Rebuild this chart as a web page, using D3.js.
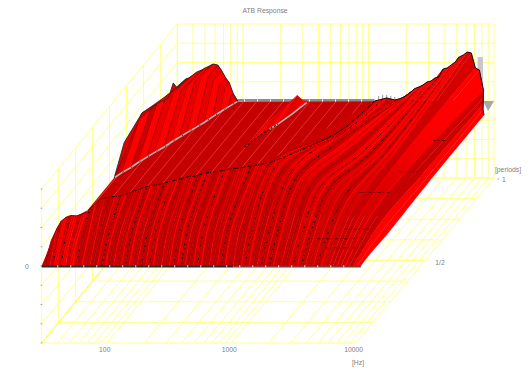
<!DOCTYPE html>
<html>
<head>
<meta charset="utf-8">
<script src="https://cdn.jsdelivr.net/npm/d3@7/dist/d3.min.js"></script>
<style>
  html, body { margin: 0; padding: 0; background: #fff; }
  svg { display: block; }
  text { font-family: "Liberation Sans", Arial, sans-serif; font-size: 6.8px; fill: #808080; }
</style>
</head>
<body>
<div id="chart"></div>
<script>
// Axis values
const gridFreq = [30,40,50,60,70,80,90,100,200,300,400,500,600,700,800,900,1000,2000,3000,4000,5000,6000,7000,8000,9000,10000]
const freqLabels = [100, 1000, 10000]
const periodLevels = [0,0.125,0.25,0.375,0.5,0.625,0.75,0.875,1]
const ampLevels = [-77,-57.75,-38.5,-19.25,0,19.25,38.5,57.75,77]

// Main sheet: one entry per frequency line
const sheetFreq = [30,32,35,37,40,43,47,50,54,58,63,68,73,78,84,91,98,105,113,122,131,141,152,164,176,190,205,220,237,255,275,296,319,343,370,398,428,461,497,535,576,620,668,719,774,833,897,966,1040,1120,1206,1298,1398,1505,1620,1745,1879,2023,2178,2345,2525,2719,2927,3152,3394,3654,3934,4236,4561,4911,5287,5693,6130,6600,7106,7651,8238,8870,9550,10280,11000]
const riseH = [2,8,12,15,16,16,16,17,18,19,23,25,25,24,24,23,24,25,24,26,26,27,27,26,27,28,28,28,29,29,29,29,30,30,30,31,30,31,30,31,31,30,31,31,30,31,30,31,30,30,29,28,27,26,25,23,21,20,20,19,19,18,18,17,17,16,16,15,15,14,12,11,10,10,9,8,6,5,3,2,1]
const shoulderP = [.04,.045,.05,.06,.065,.07,.08,.09,.095,.095,.10,.10,.11,.12,.13,.14,.15,.15,.16,.16,.16,.16,.16,.17,.17,.17,.17,.17,.18,.18,.18,.18,.18,.18,.19,.19,.19,.20,.20,.20,.20,.21,.21,.21,.22,.22,.23,.23,.24,.24,.24,.24,.24,.24,.24,.24,.20,.20,.20,.20,.20,.20,.20,.20,.20,.20,.20,.20,.20,.20,.20,.20,.20,.20,.20,.20,.20,.20,.20,.20,.20]
const shoulderH = [6,18,29,35,38,39,37,37,38,42,46,50,50,49,48,47,47,49,49,50,52,53,54,53,54,55,56,57,57,58,59,60,60,61,61,62,62,62,62,63,64,63,63,64,63,64,63,64,63,64,64,63,62,61,60,59,57,56,54,53,51,50,48,47,46,44,43,41,40,37,35,33,31,29,26,24,21,16,11,5.5,0.5]
// The lines from here on carry on to the back of the plot
const tailStart = 49
const kneeP = [.73,.73,.73,.73,.73,.73,.73,.5,.5,.5,.5,.5,.5,.5,.5,.5,.5,.5,.5,.5,.5,.5,.5,.5,.5,.5,.5,.5,.5,.5,.5,.5]
const kneeH = [13,13,15,16,18,20,23,43,41,39,37,36,34,33,31,31,30,30,30,31,32,33,34,35,35,33,31,22,15,9,5,3]
const endP = [1,1,1,1,1,1,1,1,1,1,1,1,1,1,1,1,1,1,1,1,1,1,1,1,1,1,1,1,.97,.94,.91,.89]
const endH = [0,1,2,3,2,1,2,3.5,6,9,12.5,14,16,19,20,23,24.5,32,33,36,39,44,46,49,48,33,31,11,8,7,6,4]

// Left edge of the main sheet at the lowest frequency
const edgeP = [0,.06,.12,.19,.26,.34]
const edgeH = [0,10,20,18,7,0]

// Dark speckled rows across the high frequency end
const rowFrom = [5000,6000,7000,7000,4000,5000]
const rowTo = [10000,10000,10000,9000,8000,9000]
const rowP = [.05,.12,.45,.7,.08,.3]
const rowH = [10,17,20,10,14,24]

// Back hump at low frequencies
const humpFreq = [30,32,35,37,40,43,47,50,54,58,63,68,73,78,84,91]
const humpBaseP = [.535,.566,.597,.627,.658,.689,.72,.75,.78,.81,.84,.87,.905,.935,.966,.996]
const humpMidP = [.74,.70,.74,.77,.80,.83,.85,.87,.89,.91,.93,.94,.95,.97,.98,.998]
const humpMidH = [31,32,34,36,37,36,36,36,37,38,36,30,24,18,8,0]
const humpEndH = [13,17,22,23,26,29,31,33,35,37,36,30,23,18,7,0]
const humpEdgeP = [.535,.608,.74,.84,.936,.97,1]
const humpEdgeH = [0,23,31,23,14,23,13]

// Small ridge in the middle of the plane
const ridgeFreq = [208,216,230,250,270,300,330]
const ridgeBaseP = [.72,.75,.79,.83,.86,.92,.99]
const ridgeEndP = [.72,.875,.92,.97,1,1,1]
const ridgeEndH = [0,0,1,3,6,1,0]

// Zero plane
const planeFreq = [30,30,91,7000,7000]
const planeP = [.34,.535,.996,1,.3]
const planeLineFreq = [31,39,50,63,80,102,130,166,211,269,343,437,557,709,904,1151]
const planeLineEnd = [.545,.65,.745,.84,.955,1,1,1,1,1,1,1,1,1,1,1]

// Grey bits at the back
const spikeFreq = [1206,1298,1398,1505,1620]
const spikeH = [5,6,6,5,4]
const columnFreq = [7400,8175]
const columnLow = 14
const columnHigh = 44
const cornerFreq = [8175,10000,10450]
const cornerP = [1,1,.94]

const width = 530
const height = 378

// Two log scales because the back wall is a little wider than the floor front
const xFront = d3.scaleLog().domain([30, 10000]).range([41.7, 355.7])
const xBack = d3.scaleLog().domain([30, 10000]).range([177.3, 494])
const yAmp = d3.scaleLinear().domain([-77, 77]).range([343, 189])
const depth = d3.scaleLinear().domain([0, 1]).range([0, 165])

function project(f, p, z) {
  const x0 = xFront(f)
  return [x0 + (xBack(f) - x0) * p, yAmp(z) - depth(p)]
}

const path = d3.line()
const closed = pts => path(pts) + "Z"
const curved = d3.line().curve(d3.curveCatmullRom)
const ribbon = (a, b) => curved(a) + "L" + curved(b.slice().reverse()).slice(1) + "Z"

const svg = d3.select("#chart").append("svg")
  .attr("width", width)
  .attr("height", height)
  .attr("viewBox", `0 0 ${width} ${height}`)

// Colour runs from dark at the front edge to bright at the top of the plot
const defs = svg.append("defs")
function addGradient(id, stops) {
  const g = defs.append("linearGradient").attr("id", id)
    .attr("gradientUnits", "userSpaceOnUse")
    .attr("x1", 0).attr("x2", 0).attr("y1", 266).attr("y2", 50)
  stops.forEach(s => g.append("stop").attr("offset", s[0]).attr("stop-color", s[1]))
}
addGradient("bandDark", [[0, "#c40000"], [0.5, "#c80000"], [0.75, "#d00000"], [1, "#dc0000"]])
addGradient("bandLight", [[0, "#cc0000"], [0.3, "#d60000"], [0.5, "#f00000"], [0.65, "#ff0000"], [1, "#ff0000"]])

// Fine hatch for the densely packed lines at the front
const hatch = defs.append("pattern").attr("id", "fineLines")
  .attr("patternUnits", "userSpaceOnUse")
  .attr("width", 2.2).attr("height", 6)
  .attr("patternTransform", "rotate(16)")
hatch.append("rect").attr("width", 0.8).attr("height", 6).attr("fill", "#a80000").attr("opacity", 0.55)

// Walls and floor
const grid = svg.append("g").attr("fill", "none").attr("stroke", "#ffff8c").attr("stroke-width", 1)
const gridLine = (a, b) => grid.append("path").attr("d", path([a, b]))

gridFreq.forEach(f => {
  gridLine(project(f, 0, -77), project(f, 1, -77))
  gridLine(project(f, 1, -77), project(f, 1, 77))
})
periodLevels.forEach(p => {
  gridLine(project(30, p, -77), project(10000, p, -77))
  gridLine(project(30, p, -77), project(30, p, 77))
})
ampLevels.forEach(z => {
  gridLine(project(30, 0, z), project(30, 1, z))
  gridLine(project(30, 1, z), project(10000, 1, z))
})
grid.append("path")
  .attr("d", path([project(30, 0, -77), project(30, 1, -77)]))
  .attr("stroke", "#ffff30")

// Small axis ticks
const ticks = svg.append("g").attr("stroke", "#9a9a9a").attr("stroke-width", 1)
ampLevels.forEach(z => {
  const [x, y] = project(30, 0, z)
  ticks.append("path").attr("d", path([[x - 1, y], [x + 0.5, y]]))
})

// Back strip of the plane
svg.append("path")
  .attr("d", path([project(91, 1, 0.8), project(1120, 1, 0.8)]))
  .attr("stroke", "#8c8c8c").attr("stroke-width", 2.4).attr("fill", "none")

spikeFreq.forEach((f, i) => {
  svg.append("path")
    .attr("d", path([project(f, 1, 0), project(f, 1, spikeH[i])]))
    .attr("stroke", "#9a9a9a").attr("stroke-width", 1)
})

// Zero plane
svg.append("path")
  .attr("d", closed(planeFreq.map((f, i) => project(f, planeP[i], 0))))
  .attr("fill", "#c40000")

planeLineFreq.forEach((f, i) => {
  svg.append("path")
    .attr("d", path([project(f, 0.1, 0), project(f, planeLineEnd[i], 0)]))
    .attr("stroke", "#f23a3a").attr("stroke-width", 0.8).attr("fill", "none")
})

// White marks on the back edge
svg.append("path")
  .attr("d", path([project(102, 1, 0.6), project(1120, 1, 0.6)]))
  .attr("stroke", "#fff").attr("stroke-width", 2).attr("stroke-dasharray", "1 12").attr("fill", "none")

// Back hump
const hump = svg.append("g")
const humpOutline = humpEdgeP.map((p, i) => project(30, p, humpEdgeH[i]))
  .concat(humpFreq.map((f, i) => project(f, 1, humpEndH[i])))
hump.append("path")
  .attr("d", closed(humpOutline.concat(humpFreq.map((f, i) => project(f, humpBaseP[i], 0)).reverse())))
  .attr("fill", "#e00000")

const humpRow = i => [
  project(humpFreq[i], humpBaseP[i], 0),
  project(humpFreq[i], humpMidP[i], humpMidH[i]),
  project(humpFreq[i], 1, humpEndH[i])
]
d3.range(humpFreq.length - 1).forEach(i => {
  hump.append("path")
    .attr("d", closed(humpRow(i).concat(humpRow(i + 1).reverse())))
    .attr("fill", i % 2 ? "#ff0000" : (i < 4 ? "#cc0000" : "#e60000"))
    .attr("stroke", i % 2 === 0 ? "#6a0000" : "none")
    .attr("stroke-width", 0.5)
})
hump.append("path")
  .attr("d", path(humpOutline))
  .attr("fill", "none").attr("stroke", "#2a2a2a").attr("stroke-width", 0.9)

const humpBase = humpFreq.map((f, i) => project(f, humpBaseP[i], 0))
hump.append("path").attr("d", path(humpBase))
  .attr("fill", "none").attr("stroke", "#b5b5b5").attr("stroke-width", 1.6)
hump.append("path").attr("d", path(humpBase))
  .attr("fill", "none").attr("stroke", "#111").attr("stroke-width", 1).attr("stroke-dasharray", "1 9")

// Small ridge
const ridge = svg.append("g")
const ridgeRow = i => [project(ridgeFreq[i], ridgeBaseP[i], 0), project(ridgeFreq[i], ridgeEndP[i], ridgeEndH[i])]
d3.range(ridgeFreq.length - 1).forEach(i => {
  ridge.append("path")
    .attr("d", closed(ridgeRow(i).concat(ridgeRow(i + 1).reverse())))
    .attr("fill", i % 2 ? "#ff0000" : "#e00000")
})
const ridgeBase = ridgeFreq.map((f, i) => project(f, ridgeBaseP[i], 0))
ridge.append("path").attr("d", path(ridgeBase.slice(3)))
  .attr("fill", "none").attr("stroke", "#b9b9b9").attr("stroke-width", 1.6)
ridge.append("path").attr("d", path(ridgeBase.slice(0, 5)))
  .attr("fill", "none").attr("stroke", "#111").attr("stroke-width", 1.2).attr("stroke-dasharray", "2 2")

// Grey corner and column at the far right
svg.append("path")
  .attr("d", closed(cornerFreq.map((f, i) => project(f, cornerP[i], 0))))
  .attr("fill", "#a8a8a8")
svg.append("path")
  .attr("d", closed([
    project(columnFreq[0], 1, columnLow), project(columnFreq[0], 1, columnHigh),
    project(columnFreq[1], 1, columnHigh), project(columnFreq[1], 1, columnLow)
  ]))
  .attr("fill", "#c8c8c8")

// Main sheet
const sheet = svg.append("g")
const riseP = sheetFreq.map(f => f < 60 ? 0.02 : 0.05)
const row = i => {
  const f = sheetFreq[i]
  const pts = [project(f, 0, 0), project(f, riseP[i], riseH[i]), project(f, shoulderP[i], shoulderH[i])]
  if (i >= tailStart) {
    pts.push(project(f, kneeP[i - tailStart], kneeH[i - tailStart]))
    pts.push(project(f, endP[i - tailStart], endH[i - tailStart]))
  }
  return pts
}

sheet.append("path")
  .attr("d", closed(edgeP.map((p, i) => project(30, p, edgeH[i]))))
  .attr("fill", "#d80000")

// Lines are painted from the top of the frequency range down so the ridge stays on top
d3.range(sheetFreq.length - 2, -1, -1).forEach(i => {
  const light = (i >> 1) % 2
  let fill = light ? "url(#bandLight)" : "url(#bandDark)"
  if (i >= 78) fill = "#ff0000"
  if (i > 2 && i < 9) fill = i % 2 ? "#ff0000" : "#d80000"
  sheet.append("path")
    .attr("d", ribbon(row(i), row(i + 1)))
    .attr("fill", fill)
    .attr("stroke", fill)
    .attr("stroke-width", 0.3)
})

// Hatch over the lower part of the sheet
const hatchTop = d3.range(0, 62).map(i => project(sheetFreq[i], shoulderP[i], shoulderH[i]))
sheet.append("path")
  .attr("d", closed([project(30, 0, 0)].concat(hatchTop, [project(sheetFreq[61], 0, 0)])))
  .attr("fill", "url(#fineLines)")

// Bright and black streaks along the frequency lines
d3.range(1, sheetFreq.length - 2).forEach(i => {
  const line = curved(row(i))
  if (i % 2 === 0) {
    sheet.append("path").attr("d", line)
      .attr("fill", "none").attr("stroke", "#ff0000").attr("stroke-width", 0.5 + (i * 5 % 3) * 0.4)
  } else if (i < 72) {
    sheet.append("path").attr("d", line)
      .attr("fill", "none").attr("stroke", "#8c0000").attr("stroke-width", 0.5)
    if (i % 3 === 0 || i % 5 === 0) {
      sheet.append("path").attr("d", line)
        .attr("fill", "none").attr("stroke", "#000").attr("stroke-width", 1)
        .attr("stroke-dasharray", `1.5 ${4 + (i % 5) * 2} 1 ${3 + (i % 7)}`)
        .attr("stroke-dashoffset", i * 7)
    }
  }
})

rowP.forEach((p, i) => {
  sheet.append("path")
    .attr("d", path([project(rowFrom[i], p, rowH[i]), project(rowTo[i], p, rowH[i])]))
    .attr("fill", "none").attr("stroke", "#3a0000").attr("stroke-width", 0.8).attr("stroke-dasharray", "3 2 1 3")
})

// Outlines
const topLow = d3.range(1, tailStart).map(i => project(sheetFreq[i], shoulderP[i], shoulderH[i]))
sheet.append("path").attr("d", path(topLow.slice(0, 12)))
  .attr("fill", "none").attr("stroke", "#5a0000").attr("stroke-width", 0.7)
sheet.append("path").attr("d", path(topLow.slice(11)))
  .attr("fill", "none").attr("stroke", "#000").attr("stroke-width", 1).attr("stroke-dasharray", "3 1 1 2")
sheet.append("path").attr("d", curved(row(tailStart).slice(2)))
  .attr("fill", "none").attr("stroke", "#000").attr("stroke-width", 1).attr("stroke-dasharray", "3 1 1 2")
const topBack = d3.range(tailStart, sheetFreq.length).map(i => project(sheetFreq[i], endP[i - tailStart], endH[i - tailStart]))
sheet.append("path").attr("d", path(topBack))
  .attr("fill", "none").attr("stroke", "#111").attr("stroke-width", 1)

// Front edge
const frontLeft = [project(30, 0, -0.6), project(1040, 0, -0.6)]
const frontRight = [project(1040, 0, -0.6), project(11000, 0, -0.6)]
svg.append("path").attr("d", path(frontLeft)).attr("stroke", "#2a2a2a").attr("stroke-width", 1.6).attr("fill", "none")
svg.append("path").attr("d", path(frontRight)).attr("stroke", "#8c3030").attr("stroke-width", 1.6).attr("fill", "none")
svg.append("path").attr("d", path([project(40, 0, -0.4), project(10000, 0, -0.4)]))
  .attr("stroke", "#d8d8d8").attr("stroke-width", 2.4).attr("stroke-dasharray", "1 12").attr("fill", "none")

// Labels
const labels = svg.append("g")
labels.append("text").attr("x", 265).attr("y", 12.5).attr("text-anchor", "middle").text("ATB Response")
freqLabels.forEach(f => {
  labels.append("text").attr("x", xFront(f) - 2).attr("y", 352).attr("text-anchor", "middle").text(f)
})
labels.append("text").attr("x", 358).attr("y", 364.5).attr("text-anchor", "middle").text("[Hz]")
labels.append("text").attr("x", 27).attr("y", 269).attr("text-anchor", "middle").text("0")
labels.append("text").attr("x", 440).attr("y", 265).attr("text-anchor", "middle").text("1/2")
labels.append("text").attr("x", 504).attr("y", 182).attr("text-anchor", "middle").text("1")
labels.append("text").attr("x", 508).attr("y", 171.5).attr("text-anchor", "middle").text("[periods]")
ticks.append("path").attr("d", path([[497.5, 179], [499, 179]]))
</script>
</body>
</html>
